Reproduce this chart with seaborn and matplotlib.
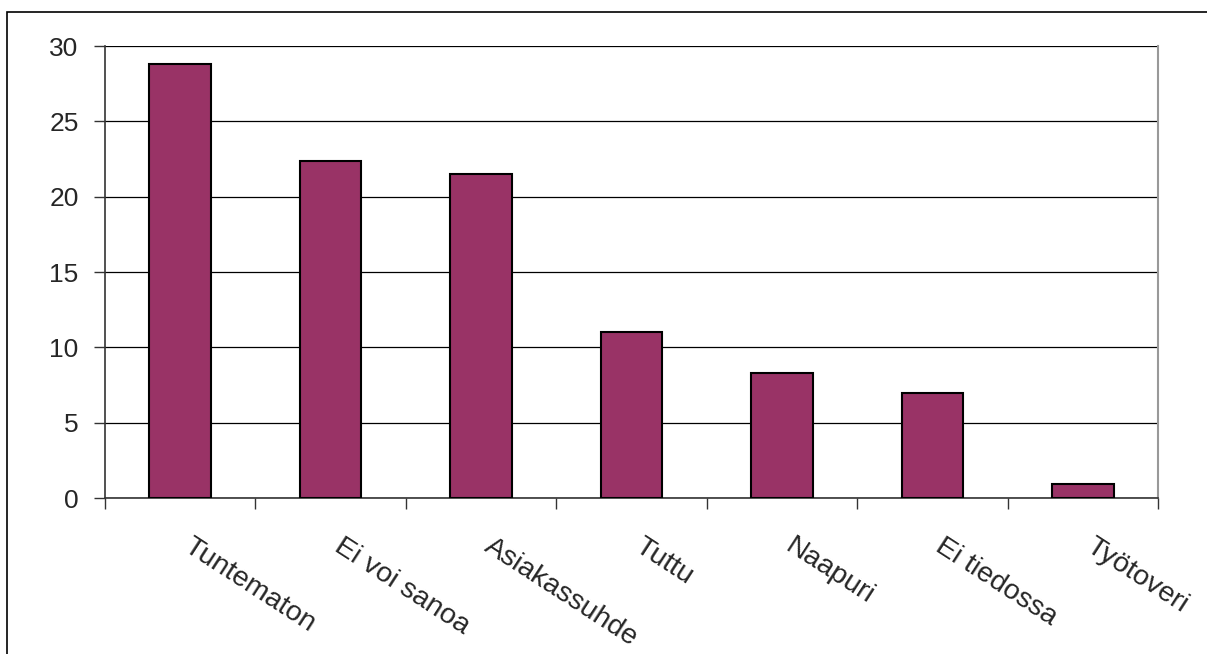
import matplotlib
matplotlib.use("Agg")
import matplotlib.pyplot as plt
import matplotlib.transforms as mtransforms
from matplotlib.patches import Rectangle
import seaborn as sns
import numpy as np
import pandas as pd

# data
categories = ["Tuntematon", "Ei voi sanoa", "Asiakassuhde", "Tuttu",
              "Naapuri", "Ei tiedossa", "Työtoveri"]
values = [28.8, 22.4, 21.5, 11.0, 8.3, 7.0, 0.9]
y_ticks = [0, 5, 10, 15, 20, 25, 30]

df = pd.DataFrame({"category": categories, "value": values})

sns.set_style("white")
plt.rcParams['font.family'] = ['Liberation Sans', 'DejaVu Sans']

fig = plt.figure(figsize=(12.07, 6.54), dpi=100)
ax = fig.add_axes([105 / 1207, 1 - 498 / 654, (1158 - 105) / 1207, (498 - 46) / 654])

sns.barplot(data=df, x="category", y="value", ax=ax, color="#993366",
            saturation=1, width=0.41, edgecolor="black", linewidth=1.5, zorder=3)

ax.set_ylim(0, 30)
ax.set_xlim(-0.5, len(categories) - 0.5)
ax.set_yticks(y_ticks)
ax.set_yticklabels([str(t) for t in y_ticks])
ax.yaxis.grid(True, color="black", linewidth=0.9, zorder=0)
ax.set_axisbelow(True)
ax.tick_params(axis="y", direction="out", length=8, width=1, color="#333333",
               pad=11, left=True, labelsize=19)

# category labels at bar centres, tick marks at category boundaries
ax.set_xticks(np.arange(len(categories)))
ax.set_xticks(np.arange(len(categories) + 1) - 0.5, minor=True)
ax.tick_params(axis="x", which="major", length=0, pad=0, labelsize=20)
ax.tick_params(axis="x", which="minor", direction="out", length=8, width=1,
               color="#333333", bottom=True)
ax.set_xticklabels(categories, fontsize=20.5, rotation=-33, ha="left",
                   va="top", rotation_mode="anchor")
shift = mtransforms.ScaledTranslation(13 / 100, -35 / 100, fig.dpi_scale_trans)
for lbl in ax.get_xticklabels():
    lbl.set_transform(lbl.get_transform() + shift)

ax.set_xlabel("")
ax.set_ylabel("")
for side in ["left", "bottom"]:
    ax.spines[side].set_color("#333333")
    ax.spines[side].set_linewidth(1.2)
ax.spines["right"].set_color("#999999")
ax.spines["right"].set_linewidth(1.5)
ax.spines["top"].set_visible(False)

# outer chart border (cut off at the right and bottom in the source)
fig.patches.append(Rectangle((7 / 1207, -0.1), 1.2, 1 - 12 / 654 + 0.1,
                             transform=fig.transFigure, fill=False,
                             edgecolor="black", linewidth=1.2))

fig.savefig("out.png", dpi=100)
